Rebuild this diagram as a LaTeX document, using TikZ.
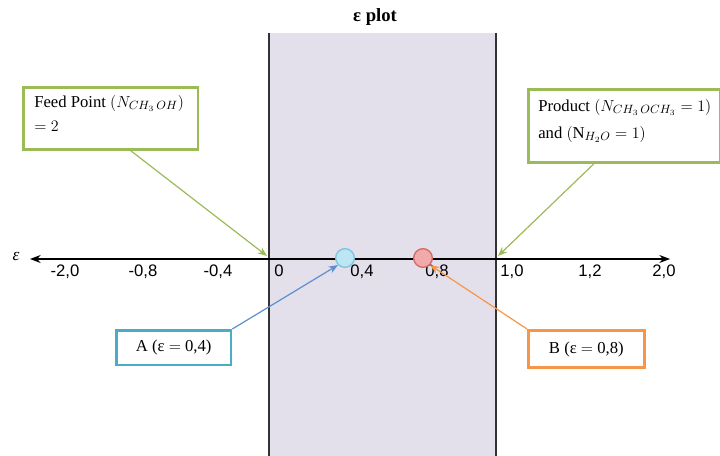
\documentclass[tikz,border=0pt]{standalone}
\usepackage{fontspec}
\setmainfont{Liberation Serif}
\setsansfont{Liberation Sans}
\usetikzlibrary{arrows.meta}
\definecolor{band}{HTML}{E3DFEB}
\definecolor{grn}{HTML}{9BBB59}
\definecolor{blu}{HTML}{4BACC6}
\definecolor{blarrow}{HTML}{5B8FD0}
\definecolor{org}{HTML}{F79646}
\definecolor{cAfill}{HTML}{BDE6F4}
\definecolor{cAdraw}{HTML}{7CC5DC}
\definecolor{cBfill}{HTML}{F2A9A9}
\definecolor{cBdraw}{HTML}{D46A6A}
\tikzset{
  boxframe/.style={draw, line width=2pt, fill=white, inner sep=0pt, anchor=north west},
  boxtext/.style={inner sep=0pt, anchor=north west, font=\fontsize{12.5}{14}\selectfont},
  ticklab/.style={font=\sffamily\fontsize{12.5}{14}\selectfont, anchor=north, inner sep=1pt},
  pointer/.style={line width=0.9pt, -{Stealth[length=7pt,width=5.5pt]}},
  dot/.style={circle, line width=1pt, minimum size=14pt, inner sep=0pt},
}
\begin{document}
\begin{tikzpicture}[x=0.75pt,y=-0.75pt]
\useasboundingbox (0,0) rectangle (720,456);
% band
\fill[band] (269,33) rectangle (496,456);
\draw[line width=1pt, black!80] (269,33) -- (269,456);
\draw[line width=1pt, black!80] (496,33) -- (496,456);
\node[font=\bfseries\fontsize{14}{16}\selectfont] (title) at (375,17) {ε plot};
% axis
\coordinate (axL) at (30,259);
\coordinate (axR) at (670,259);
\draw[line width=0.9pt, {Stealth[length=8pt,width=6pt]}-{Stealth[length=8pt,width=6pt]}] (axL) -- (axR);
\node[font=\itshape\fontsize{13}{14}\selectfont] (eps) at (16,256) {ε};
\node[ticklab] (t1) at (65,263) {-2,0};
\node[ticklab] (t2) at (143,263) {-0,8};
\node[ticklab] (t3) at (218,263) {-0,4};
\node[ticklab] (t4) at (279,263) {0};
\node[ticklab] (t5) at (362,263) {0,4};
\node[ticklab] (t6) at (437,263) {0,8};
\node[ticklab] (t7) at (512,263) {1,0};
\node[ticklab] (t8) at (590,263) {1,2};
\node[ticklab] (t9) at (664,263) {2,0};
% points
\node[dot, draw=cAdraw, fill=cAfill] (A) at (345,258) {};
\node[dot, draw=cBdraw, fill=cBfill] (B) at (423,258) {};
% callout frames
\node[boxframe, draw=grn, minimum width=131pt, minimum height=46.5pt] (feed) at (22,86) {};
\node[boxframe, draw=grn, minimum width=144pt, minimum height=55pt] (prod) at (527,88) {};
\node[boxframe, draw=blu, minimum width=86pt, minimum height=26pt] (boxA) at (115,329) {};
\node[boxframe, draw=org, minimum width=87pt, minimum height=28pt] (boxB) at (527,329) {};
% callout texts
\node[boxtext] (feedtxt1) at (34,95) {Feed Point $\big(N_{CH_3\,OH}\big)$};
\node[boxtext] (feedtxt2) at (34,121) {$=2$};
\node[boxtext] (prodtxt1) at (538,99) {Product $\big(N_{CH_3\,OCH_3}=1\big)$};
\node[boxtext] (prodtxt2) at (538,126) {and $\big(\mathrm{N}_{H_2O}=1\big)$};
\node[font=\fontsize{12.5}{14}\selectfont] (Atxt) at (boxA.center) {A (ε $=$ 0,4)};
\node[font=\fontsize{12.5}{14}\selectfont] (Btxt) at (boxB.center) {B (ε $=$ 0,8)};
% connectors
\coordinate (feedTip) at (267,256);
\coordinate (prodTip) at (498,256);
\draw[pointer, color=grn] ([xshift=15pt]feed.south) -- (feedTip);
\draw[pointer, color=grn] ([xshift=-23pt]prod.south) -- (prodTip);
\draw[pointer, color=blarrow] (boxA.north east) -- (A.south west);
\draw[pointer, color=org] (boxB.north west) -- (B.south east);
\end{tikzpicture}
\end{document}
